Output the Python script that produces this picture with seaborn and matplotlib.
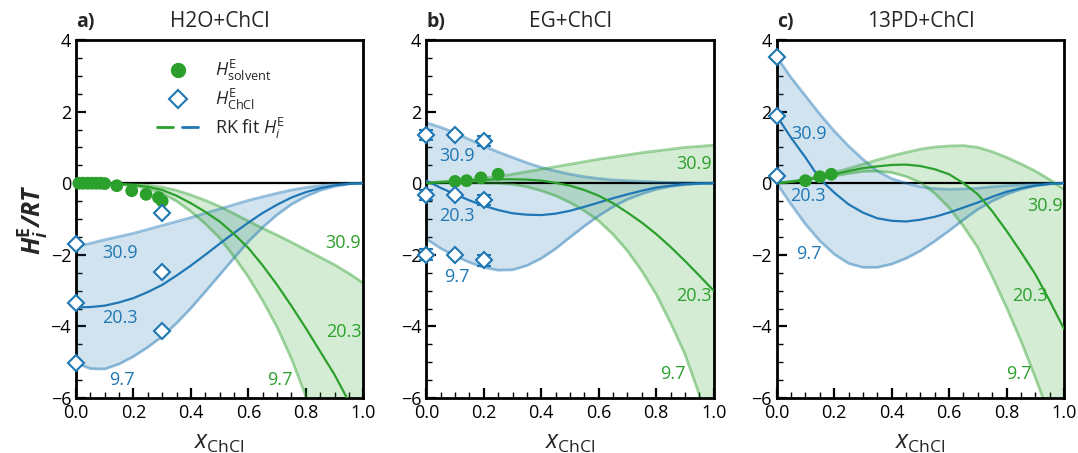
import numpy as np
import pandas as pd
import matplotlib
matplotlib.use("Agg")
import matplotlib.pyplot as plt
from matplotlib.lines import Line2D
from matplotlib.legend_handler import HandlerTuple
from matplotlib.ticker import MultipleLocator
import seaborn as sns

# ---------------- data ----------------
x_grid = [0.00, 0.05, 0.10, 0.15, 0.20, 0.25, 0.30, 0.35, 0.40, 0.45, 0.50,
          0.55, 0.60, 0.65, 0.70, 0.75, 0.80, 0.85, 0.90, 0.95, 1.00]

titles = ["H2O+ChCl", "EG+ChCl", "13PD+ChCl"]
letters = ["a)", "b)", "c)"]
temps = ["30.9", "20.3", "9.7"]

# Panel a
a_blue_hi = [-1.77, -1.68, -1.58, -1.49, -1.40, -1.29, -1.18, -1.07, -0.96, -0.84, -0.72,
             -0.60, -0.48, -0.38, -0.28, -0.19, -0.12, -0.07, -0.03, -0.01, 0.00]
a_blue_mid = [-3.47, -3.46, -3.42, -3.33, -3.21, -3.04, -2.84, -2.58, -2.30, -2.00, -1.69,
              -1.39, -1.10, -0.83, -0.60, -0.40, -0.25, -0.14, -0.06, -0.02, 0.00]
a_blue_lo = [-5.02, -5.18, -5.19, -5.05, -4.84, -4.58, -4.28, -3.91, -3.49, -3.03, -2.56,
             -2.09, -1.63, -1.23, -0.88, -0.59, -0.37, -0.20, -0.09, -0.02, 0.00]
a_green_hi = [0.00, 0.00, -0.01, -0.02, -0.03, -0.06, -0.11, -0.20, -0.33, -0.48, -0.65,
              -0.85, -1.06, -1.26, -1.45, -1.65, -1.86, -2.07, -2.28, -2.52, -2.79]
a_green_mid = [0.00, 0.00, -0.01, -0.02, -0.05, -0.10, -0.19, -0.35, -0.56, -0.80, -1.07,
               -1.42, -1.81, -2.30, -2.84, -3.43, -4.05, -4.70, -5.35, -6.10, -6.90]
a_green_lo = [0.00, 0.00, -0.01, -0.03, -0.07, -0.15, -0.28, -0.50, -0.79, -1.13, -1.53,
              -2.05, -2.62, -3.28, -4.02, -4.90, -5.95, -7.10, -8.40, -9.80, -11.2]

# Panel b
b_blue_hi = [1.69, 1.56, 1.41, 1.22, 1.04, 0.87, 0.72, 0.57, 0.44, 0.34, 0.25,
             0.18, 0.13, 0.09, 0.07, 0.05, 0.03, 0.02, 0.01, 0.00, 0.00]
b_blue_mid = [0.07, -0.13, -0.31, -0.48, -0.63, -0.75, -0.84, -0.88, -0.89, -0.85, -0.77,
              -0.66, -0.54, -0.42, -0.31, -0.21, -0.12, -0.07, -0.03, -0.01, 0.00]
b_blue_lo = [-1.56, -1.82, -2.03, -2.21, -2.35, -2.43, -2.42, -2.30, -2.10, -1.83, -1.51,
             -1.20, -0.91, -0.66, -0.45, -0.30, -0.17, -0.09, -0.04, -0.01, 0.00]
b_green_hi = [0.00, 0.04, 0.07, 0.10, 0.14, 0.19, 0.25, 0.32, 0.39, 0.46, 0.53,
              0.60, 0.67, 0.73, 0.79, 0.85, 0.90, 0.95, 1.00, 1.03, 1.06]
b_green_mid = [0.00, 0.03, 0.05, 0.08, 0.09, 0.11, 0.11, 0.10, 0.07, 0.01, -0.07,
               -0.19, -0.35, -0.56, -0.82, -1.10, -1.42, -1.78, -2.17, -2.58, -3.00]
b_green_lo = [0.00, 0.01, 0.02, 0.02, 0.01, 0.00, -0.03, -0.10, -0.21, -0.35, -0.54,
              -0.77, -1.05, -1.43, -1.89, -2.45, -3.10, -3.90, -4.77, -5.90, -7.20]

# Panel c
c_blue_hi = [3.53, 2.95, 2.44, 1.93, 1.46, 1.04, 0.67, 0.34, 0.13, 0.00, -0.10,
             -0.15, -0.17, -0.16, -0.14, -0.10, -0.07, -0.05, -0.03, -0.01, 0.00]
c_blue_mid = [1.88, 1.27, 0.72, 0.12, -0.26, -0.59, -0.82, -0.98, -1.05, -1.07, -1.02,
              -0.94, -0.82, -0.68, -0.54, -0.38, -0.24, -0.14, -0.07, -0.02, 0.00]
c_blue_lo = [0.00, -0.59, -1.14, -1.61, -1.98, -2.24, -2.35, -2.35, -2.26, -2.10, -1.89,
             -1.62, -1.33, -1.02, -0.73, -0.50, -0.31, -0.17, -0.07, -0.02, 0.00]
c_green_hi = [0.00, 0.05, 0.11, 0.20, 0.30, 0.41, 0.53, 0.65, 0.76, 0.86, 0.95,
              1.01, 1.04, 1.05, 1.00, 0.88, 0.72, 0.54, 0.34, 0.10, -0.17]
c_green_mid = [0.00, 0.04, 0.09, 0.17, 0.25, 0.34, 0.42, 0.47, 0.51, 0.52, 0.48,
               0.39, 0.25, 0.00, -0.31, -0.78, -1.33, -1.92, -2.54, -3.28, -4.07]
c_green_lo = [0.00, 0.04, 0.09, 0.15, 0.20, 0.27, 0.33, 0.34, 0.30, 0.19, 0.02,
              -0.28, -0.68, -1.20, -1.80, -2.60, -3.47, -4.40, -5.42, -6.50, -7.70]

# Measured points
a_solv_x = [0.01, 0.025, 0.04, 0.055, 0.07, 0.085, 0.10, 0.142, 0.194, 0.244, 0.287, 0.30]
a_solv_y = [0.00, 0.00, 0.00, 0.00, 0.00, 0.00, -0.01, -0.07, -0.21, -0.31, -0.40, -0.50]
b_solv_x = [0.10, 0.14, 0.19, 0.25]
b_solv_y = [0.05, 0.07, 0.15, 0.25]
c_solv_x = [0.10, 0.15, 0.19]
c_solv_y = [0.07, 0.18, 0.25]

a_chcl_x = [0.0, 0.0, 0.0, 0.3, 0.3, 0.3]
a_chcl_y = [-1.70, -3.35, -5.02, -0.84, -2.48, -4.14]
a_chcl_err = [0.05, 0.05, 0.05, 0.05, 0.05, 0.05]
b_chcl_x = [0.0, 0.0, 0.0, 0.1, 0.1, 0.1, 0.2, 0.2, 0.2]
b_chcl_y = [1.35, -0.33, -2.00, 1.35, -0.33, -2.00, 1.18, -0.47, -2.15]
b_chcl_err = [0.15, 0.15, 0.15, 0.05, 0.05, 0.05, 0.15, 0.15, 0.15]
c_chcl_x = [0.0, 0.0, 0.0]
c_chcl_y = [3.53, 1.88, 0.20]
c_chcl_err = [0.05, 0.05, 0.05]

# label positions (x, y) per temperature, blue then green
a_blue_lab = [(0.153, -1.95), (0.153, -3.77), (0.159, -5.50)]
a_green_lab = [(0.931, -1.68), (0.931, -4.17), (0.711, -5.50)]
b_blue_lab = [(0.107, 0.76), (0.107, -0.91), (0.107, -2.63)]
b_green_lab = [(0.931, 0.55), (0.931, -3.15), (0.859, -5.32)]
c_blue_lab = [(0.112, 1.37), (0.109, -0.37), (0.112, -1.98)]
c_green_lab = [(0.934, -0.63), (0.882, -3.15), (0.842, -5.32)]

panels = [
    dict(bh=a_blue_hi, bm=a_blue_mid, bl=a_blue_lo, gh=a_green_hi, gm=a_green_mid, gl=a_green_lo,
         sx=a_solv_x, sy=a_solv_y, cx=a_chcl_x, cy=a_chcl_y, ce=a_chcl_err,
         blab=a_blue_lab, glab=a_green_lab),
    dict(bh=b_blue_hi, bm=b_blue_mid, bl=b_blue_lo, gh=b_green_hi, gm=b_green_mid, gl=b_green_lo,
         sx=b_solv_x, sy=b_solv_y, cx=b_chcl_x, cy=b_chcl_y, ce=b_chcl_err,
         blab=b_blue_lab, glab=b_green_lab),
    dict(bh=c_blue_hi, bm=c_blue_mid, bl=c_blue_lo, gh=c_green_hi, gm=c_green_mid, gl=c_green_lo,
         sx=c_solv_x, sy=c_solv_y, cx=c_chcl_x, cy=c_chcl_y, ce=c_chcl_err,
         blab=c_blue_lab, glab=c_green_lab),
]

# ---------------- style ----------------
sns.set_style("ticks")
plt.rcParams['font.family'] = ['Open Sans', 'DejaVu Sans']
plt.rcParams['mathtext.fontset'] = 'custom'
plt.rcParams['mathtext.rm'] = 'Open Sans'
plt.rcParams['mathtext.it'] = 'Open Sans:italic'
plt.rcParams['mathtext.bf'] = 'Open Sans:bold'
plt.rcParams['mathtext.bfit'] = 'Open Sans:italic:bold'

BLUE = "#1f77b4"
GREEN = "#2ca02c"

fig, axes = plt.subplots(1, 3, figsize=(10.78, 4.53), dpi=100)
fig.subplots_adjust(left=0.0705, right=0.987, bottom=0.1214, top=0.9117, wspace=0.2195)

for i, (ax, p) in enumerate(zip(axes, panels)):
    x = np.array(x_grid)
    # bands
    ax.fill_between(x, p['bl'], p['bh'], color=BLUE, alpha=0.2, lw=0, zorder=1)
    ax.fill_between(x, p['gl'], p['gh'], color=GREEN, alpha=0.2, lw=0, zorder=1)
    ax.axhline(0, color='black', lw=1.6, zorder=1.5)
    for key in ['bh', 'bl']:
        sns.lineplot(x=x, y=p[key], ax=ax, color=BLUE, alpha=0.45, lw=2.0, sort=False, zorder=2)
    for key in ['gh', 'gl']:
        sns.lineplot(x=x, y=p[key], ax=ax, color=GREEN, alpha=0.45, lw=2.0, sort=False, zorder=2)
    sns.lineplot(x=x, y=p['bm'], ax=ax, color=BLUE, lw=1.6, sort=False, zorder=3)
    sns.lineplot(x=x, y=p['gm'], ax=ax, color=GREEN, lw=1.6, sort=False, zorder=3)

    # points
    sns.scatterplot(x=p['sx'], y=p['sy'], ax=ax, color=GREEN, s=85, edgecolor='none',
                    zorder=6, clip_on=False)
    ax.errorbar(p['cx'], p['cy'], yerr=p['ce'], fmt='D', ms=8, mfc='white', mec=BLUE,
                mew=1.5, ecolor=BLUE, elinewidth=1.5, capsize=5, capthick=1.5,
                clip_on=False, zorder=7, ls='none')

    for (tx, ty), t in zip(p['blab'], temps):
        ax.text(tx, ty, t, color=BLUE, fontsize=13, ha='center', va='center')
    for (tx, ty), t in zip(p['glab'], temps):
        ax.text(tx, ty, t, color=GREEN, fontsize=13, ha='center', va='center')

    ax.set_xlim(0, 1)
    ax.set_ylim(-6, 4)
    ax.xaxis.set_major_locator(MultipleLocator(0.2))
    ax.xaxis.set_minor_locator(MultipleLocator(0.05))
    ax.yaxis.set_major_locator(MultipleLocator(2))
    ax.yaxis.set_minor_locator(MultipleLocator(0.5))
    ax.tick_params(which='both', direction='in', top=False, right=False, labelsize=13,
                   color='black', labelcolor='black')
    ax.tick_params(which='major', length=7, width=1.6)
    ax.tick_params(which='minor', length=4, width=1.0)
    ax.tick_params(axis='x', pad=4)
    for s in ax.spines.values():
        s.set_linewidth(2.0)
        s.set_color('black')
        s.set_visible(True)
    ax.set_title(titles[i], fontsize=15, pad=9)
    ax.set_title(letters[i], loc='left', fontsize=14, fontweight='bold', pad=9)
    ax.set_xlabel(r"$x_{\mathrm{ChCl}}$", fontsize=18, labelpad=6)
    ax.set_ylabel("")

axes[0].set_ylabel(r"$\mathbfit{H}^{\mathbf{E}}_{\mathbfit{i}}\mathbfit{/RT}$", fontsize=18, labelpad=0)

# legend in panel a
h1 = Line2D([], [], marker='o', color=GREEN, ls='none', ms=10)
h2 = axes[0].errorbar([], [], yerr=[], fmt='D', ms=9, mfc='white', mec=BLUE, mew=1.5,
                      ecolor=BLUE, elinewidth=1.5, capsize=6, capthick=1.5, ls='none')
hg = Line2D([], [], color=GREEN, lw=2)
hb = Line2D([], [], color=BLUE, lw=2)
axes[0].legend([h1, h2, (hg, hb)],
               [r"$H^{\mathrm{E}}_{\mathrm{solvent}}$", r"$H^{\mathrm{E}}_{\mathrm{ChCl}}$",
                r"RK fit $H^{\mathrm{E}}_{i}$"],
               handler_map={tuple: HandlerTuple(ndivide=None, pad=0.5)},
               loc='upper left', bbox_to_anchor=(0.225, 0.995), frameon=False,
               fontsize=13, handlelength=2.3, labelspacing=0.2, handletextpad=0.9)

fig.savefig("out.png", dpi=100)
